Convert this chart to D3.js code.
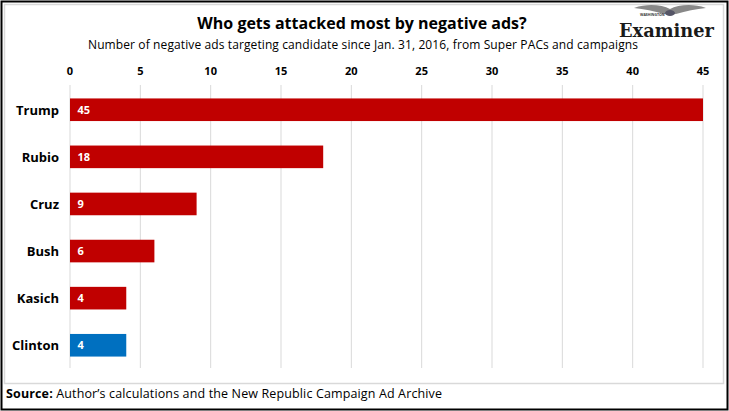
<!DOCTYPE html>
<html>
<head>
<meta charset="utf-8">
<script src="https://cdn.jsdelivr.net/npm/d3@7"></script>
<style>
  body { margin: 0; background: #fff; }
  svg { font-family: "Open Sans", "Noto Sans", sans-serif; }
</style>
</head>
<body>
<svg id="chart" width="729" height="411"></svg>
<script>
// Chart data
var candidates = ["Trump", "Rubio", "Cruz", "Bush", "Kasich", "Clinton"];
var adCounts = [45, 18, 9, 6, 4, 4];
var parties = ["R", "R", "R", "R", "R", "D"];
var xTicks = [0, 5, 10, 15, 20, 25, 30, 35, 40, 45];

var data = candidates.map(function(c, i) {
  return { name: c, val: adCounts[i], party: parties[i] };
});

var svg = d3.select("#chart");
var width = 729, height = 411;

// Borders: outer black frame, inner gray chart frame
svg.append("rect")
  .attr("x", 1.5).attr("y", 1.5)
  .attr("width", width - 3).attr("height", height - 3)
  .attr("fill", "#fff").attr("stroke", "#000").attr("stroke-width", 2);
svg.append("rect")
  .attr("x", 4.5).attr("y", 4.5)
  .attr("width", 719).attr("height", 379)
  .attr("fill", "none").attr("stroke", "#d9d9d9").attr("stroke-width", 1.5);

// Scales
var x = d3.scaleLinear().domain([0, 45]).range([69.5, 702.5]);
var y = d3.scaleBand().domain(candidates).range([86, 369])
  .paddingInner(0.52).paddingOuter(0.264);

// Gridlines from axis ticks
var grid = svg.append("g")
  .attr("transform", "translate(0,85)")
  .call(d3.axisTop(x).tickValues(xTicks).tickSize(-283).tickFormat(""));
grid.select(".domain").remove();
grid.selectAll("line").attr("stroke", "#d9d9d9").attr("stroke-width", 1);

// Tick labels
var axis = svg.append("g")
  .attr("transform", "translate(0,75)")
  .call(d3.axisTop(x).tickValues(xTicks).tickSize(0).tickPadding(0));
axis.select(".domain").remove();
axis.selectAll("text")
  .attr("font-family", "'Open Sans', sans-serif")
  .attr("font-size", "11px")
  .attr("font-weight", "700")
  .attr("fill", "#000");

// Bars
svg.selectAll("rect.bar")
  .data(data)
  .enter()
  .append("rect")
  .attr("class", "bar")
  .attr("x", x(0) + 0.5)
  .attr("y", function(d) { return y(d.name); })
  .attr("width", function(d) { return x(d.val) - x(0); })
  .attr("height", y.bandwidth())
  .attr("fill", function(d) { return d.party === "D" ? "#0070c0" : "#c00000"; });

// Value labels inside bars
svg.selectAll("text.val")
  .data(data)
  .enter()
  .append("text")
  .attr("class", "val")
  .text(function(d) { return d.val; })
  .attr("x", x(0) + 8)
  .attr("y", function(d) { return y(d.name) + y.bandwidth() / 2 + 4; })
  .attr("font-size", "11px")
  .attr("font-weight", "700")
  .attr("fill", "#fff");

// Category labels
svg.selectAll("text.cat")
  .data(data)
  .enter()
  .append("text")
  .attr("class", "cat")
  .text(function(d) { return d.name; })
  .attr("x", 59)
  .attr("y", function(d) { return y(d.name) + y.bandwidth() / 2 + 5; })
  .attr("text-anchor", "end")
  .attr("font-size", "13px")
  .attr("font-weight", "700")
  .attr("fill", "#000");

// Titles
svg.append("text")
  .text("Who gets attacked most by negative ads?")
  .attr("x", 362).attr("y", 29)
  .attr("text-anchor", "middle")
  .attr("font-size", "16px")
  .attr("font-weight", "700")
  .attr("fill", "#000");
svg.append("text")
  .text("Number of negative ads targeting candidate since Jan. 31, 2016, from Super PACs and campaigns")
  .attr("x", 363).attr("y", 49)
  .attr("text-anchor", "middle")
  .attr("font-size", "12px")
  .attr("textLength", 550)
  .attr("fill", "#000");

// Source
var src = svg.append("text")
  .attr("x", 6).attr("y", 398)
  .attr("font-size", "12.5px")
  .attr("textLength", 436)
  .attr("fill", "#000");
src.append("tspan").attr("font-weight", "700").text("Source:");
src.append("tspan").text(" Author\u2019s calculations and the New Republic Campaign Ad Archive");

// Logo (approximation of the Washington Examiner masthead)
var logo = svg.append("g");
logo.append("path")
  .attr("d", "M634,8 C648,3 662,5 670,9 C678,5 692,3 706,8 C696,9 686,11 676,14 L664,14 C654,11 644,9 634,8 Z")
  .attr("fill", "#888");
logo.append("ellipse")
  .attr("cx", 670).attr("cy", 13).attr("rx", 5).attr("ry", 3)
  .attr("fill", "#556");
logo.append("text")
  .text("WASHINGTON")
  .attr("x", 640).attr("y", 16)
  .attr("font-size", "3.5px")
  .attr("font-weight", "700")
  .attr("fill", "#333");
logo.append("text")
  .text("Examiner")
  .attr("x", 619).attr("y", 37)
  .style("font-family", "'DejaVu Serif', 'Liberation Serif', serif")
  .attr("font-size", "19px")
  .attr("font-weight", "700")
  .attr("textLength", 95)
  .attr("lengthAdjust", "spacingAndGlyphs")
  .attr("fill", "#1a1a1a");
</script>
</body>
</html>
